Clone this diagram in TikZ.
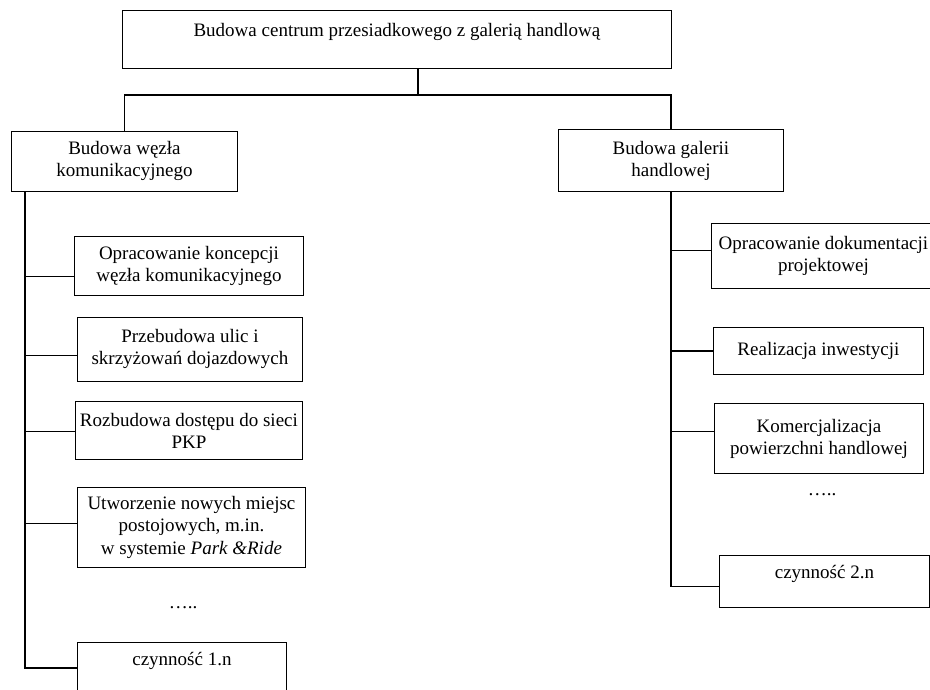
\documentclass[tikz,border=0pt]{standalone}
\usepackage{fontspec}
\setmainfont{Liberation Serif}
\tikzset{
    box/.style = {draw, line width = 0.9pt, inner sep = 0pt, align = center, anchor = north west, font = \fontsize{19}{22}\selectfont},
    dots/.style = {font = \fontsize{19}{22}\selectfont},
    link/.style = {line width = 1.5pt}
}
\begin{document}
\begin{tikzpicture}[x = 1pt, y = -1pt]
    \useasboundingbox (0, 0) rectangle (930, 689);
    \clip (0, 0) rectangle (930, 689);

    \node[box, minimum width = 549pt, text height = 26pt, text depth = 32pt] (top) at (122, 10) {Budowa centrum przesiadkowego z galerią handlową};
    \node[box, minimum width = 226pt, minimum height = 60pt] (wezel) at (11, 131) {Budowa węzła\\komunikacyjnego};
    \node[box, minimum width = 225pt, minimum height = 62pt] (galeria) at (558, 129) {Budowa galerii\\handlowej};
    \coordinate (hub) at (418, 95);
    \draw[link] (top.south -| hub) -- (hub);
    \draw[link] (wezel.north) |- (hub) -| (galeria.north);

    \node[box, minimum width = 229pt, minimum height = 59pt] (k1) at (74, 236) {Opracowanie koncepcji\\węzła komunikacyjnego};
    \node[box, minimum width = 225pt, minimum height = 64pt] (k2) at (77, 317) {Przebudowa ulic i\\skrzyżowań dojazdowych};
    \node[box, minimum width = 227pt, minimum height = 58pt] (k3) at (75, 401) {Rozbudowa dostępu do sieci\\PKP};
    \node[box, minimum width = 228pt, minimum height = 80pt] (k4) at (77, 487) {Utworzenie nowych miejsc\\postojowych, m.in.\\w systemie \textit{Park \&Ride}};
    \node[dots] (kdots) at (183, 608) {…..};
    \node[box, minimum width = 209pt, text height = 23pt, text depth = 40pt] (k5) at (77, 642) {czynność 1.n};
    \coordinate (lspine) at ([xshift = 14pt]wezel.south west);
    \draw[link] (lspine) |- ([yshift = -26pt]k5.north west);
    \foreach \k/\s in {k1/-10.5pt, k2/-6pt, k3/-1pt, k4/4pt} {
        \draw[link] ([yshift = \s]\k.west -| lspine) -- ([yshift = \s]\k.west);
    }

    \node[box, minimum width = 224pt, minimum height = 65pt] (g1) at (711, 223) {Opracowanie dokumentacji\\projektowej};
    \node[box, minimum width = 210pt, minimum height = 47pt] (g2) at (713, 327) {Realizacja inwestycji};
    \node[box, minimum width = 209pt, minimum height = 70pt] (g3) at (714, 403) {Komercjalizacja\\powierzchni handlowej};
    \node[dots] (gdots) at (822, 495) {…..};
    \node[box, minimum width = 210pt, text height = 23pt, text depth = 29pt] (g4) at (719, 555) {czynność 2.n};
    \draw[link] (galeria.south) |- ([yshift = -5pt]g4.west);
    \foreach \g/\s in {g1/5.5pt, g2/0pt, g3/7pt} {
        \draw[link] ([yshift = \s]\g.west -| galeria.south) -- ([yshift = \s]\g.west);
    }
\end{tikzpicture}
\end{document}
